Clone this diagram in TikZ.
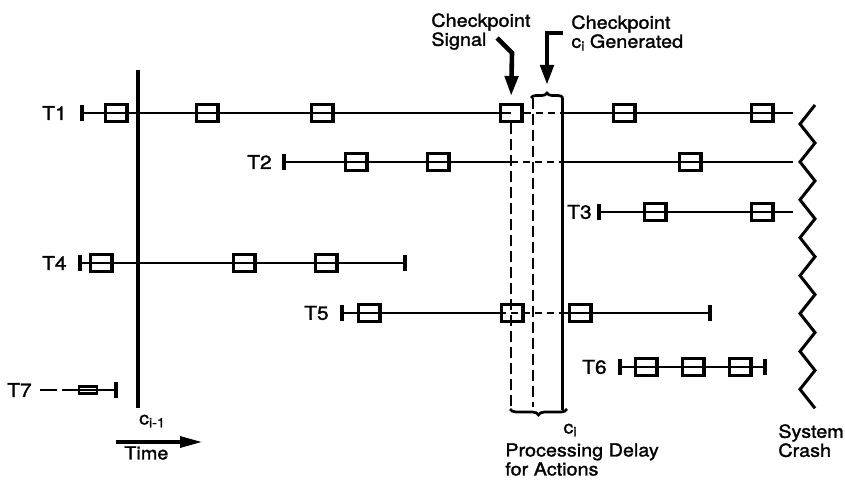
\documentclass[tikz,border=0pt]{standalone}
\usepackage{fontspec}
\setmainfont{TeX Gyre Heros}[FakeStretch=1.1,FakeBold=1.5]
\usetikzlibrary{arrows.meta,decorations.pathreplacing}
\newcommand{\csub}[1]{c\raisebox{-0.3ex}{\fontsize{6.5}{7}\selectfont #1}}

\begin{document}
\begin{tikzpicture}[x=0.5pt,y=-0.5pt,line width=1.35pt,font=\fontsize{9}{9.5}\selectfont,
    evt/.style={draw,line width=1.7pt,minimum width=10.8pt,minimum height=8.3pt,inner sep=0pt},
    tname/.style={anchor=east,inner sep=0pt,font=\fontsize{9.5}{10}\selectfont},
    lbl/.style={align=left,anchor=north west,inner sep=0pt},
    life/.style={{Bar[width=8pt,line width=1.8pt]}-},
    tail/.style={-{Bar[width=8pt,line width=1.8pt]}},
    both/.style={{Bar[width=8pt,line width=1.8pt]}-{Bar[width=8pt,line width=1.8pt]}},
    gapline/.style={dash pattern=on 3.5pt off 2.5pt},
    delay/.style={line width=1.45pt,dash pattern=on 5.5pt off 2.5pt},
    pointer/.style={line width=2.3pt,-{Triangle[length=10pt,width=6.5pt]}}]
  \useasboundingbox (0,0) rectangle (845,485);
  % checkpoint c(i-1) and time axis
  \draw[line width=1.7pt] (138,70) -- (138,408);
  \node (cprev) at (152,421) {\csub{i-1}};
  \draw[line width=1.6pt,-{Triangle[length=11pt,width=5.5pt]}] (116,442) -- (202,442);
  \node[anchor=west,inner sep=0pt] (time) at (123,453) {Time};
  % transactions
  \node[tname] (t1) at (68,113) {T1};
  \draw[life] (80,113) -- (511,113); \draw[gapline] (524,113) -- (562,113); \draw (562,113) -- (793,113);
  \foreach \x in {116,207,322,624,762} \node[evt] (b1-\x) at (\x,113) {};
  \node[evt] (sig) at (511,113) {};
  \node[tname] (t2) at (273,162) {T2};
  \draw[life] (282,162) -- (511,162); \draw[gapline] (511,162) -- (562,162); \draw (562,162) -- (793,162);
  \foreach \x in {356,438,690} \node[evt] (b2-\x) at (\x,162) {};
  \node[tname] (t3) at (593,212) {T3};
  \draw[life] (597,212) -- (793,212);
  \foreach \x in {655,762} \node[evt] (b3-\x) at (\x,212) {};
  \node[tname] (t4) at (68,263) {T4};
  \draw[both] (78,263) -- (407,263);
  \foreach \x in {101,244,326} \node[evt] (b4-\x) at (\x,263) {};
  \node[tname] (t5) at (330,313) {T5};
  \draw[life] (340,313) -- (499,313); \draw[gapline] (499,313) -- (562,313); \draw[tail] (562,313) -- (712,313);
  \foreach \x in {369,512,580} \node[evt] (b5-\x) at (\x,313) {};
  \node[tname] (t6) at (608,367) {T6};
  \draw[both] (618,367) -- (767,367);
  \foreach \x in {646,693,740} \node[evt] (b6-\x) at (\x,367) {};
  \node[tname] (t7) at (33,390) {T7};
  \draw (40,390) -- (57,390); \draw[tail] (62,390) -- (118,390);
  \node[evt,line width=1.3pt,minimum width=9pt,minimum height=3.6pt] (b7) at (88,390) {};
  % processing delay band and checkpoint c(i)
  \draw[delay] (sig.south) -- (511,407); \draw[delay] (533,98) -- (533,407);
  \draw[line width=1.5pt] (562,98) -- (562,410);
  \draw[decorate,decoration={brace,amplitude=2.5pt}] (531,98) -- (563,98);
  \draw[decorate,decoration={brace,amplitude=3pt}] (567,409) -- (510,409);
  \coordinate (brtop) at (547,93);
  \node (cnow) at (570,430) {\csub{i}};
  \node[lbl] (delaylbl) at (504,442) {Processing Delay\\for Actions};
  % checkpoint labels
  \node[lbl] (siglbl) at (430,12) {Checkpoint\\Signal};
  \node[lbl] (genlbl) at (570,14) {Checkpoint\\\csub{i} Generated};
  \draw[pointer,shorten >=3.5pt] (497,38) -- (512,53) -- (sig.north);
  \draw[pointer,shorten >=4pt] (563,33) -- (547,33) -- (brtop);
  % system crash
  \draw[line width=1.5pt] (815,105) \foreach \k in {0,...,7} { -- (800,{124+37.9*\k}) -- (815,{143+37.9*\k}) };
  \node[lbl] (crash) at (777,423) {System\\Crash};
\end{tikzpicture}
\end{document}
